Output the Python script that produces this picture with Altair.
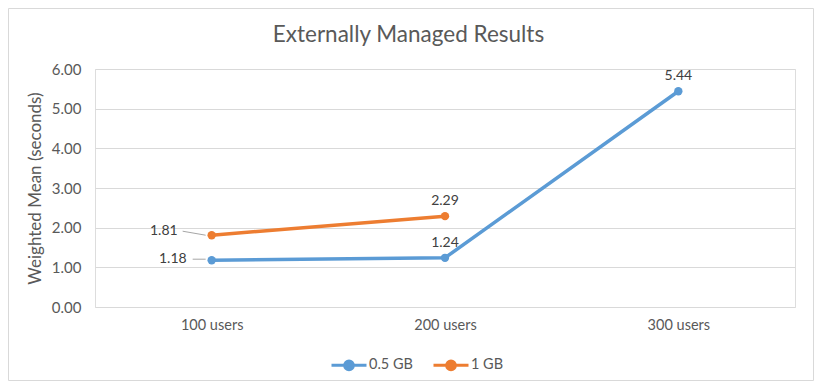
import altair as alt
import pandas as pd

categories = ["100 users", "200 users", "300 users"]
series_names = ["0.5 GB", "1 GB"]
half_gb = [1.18, 1.24, 5.44]
one_gb = [1.81, 2.29, None]
colors = ["#5B9BD5", "#ED7D31"]
title_text = "Externally Managed Results"

rows = []
for name, vals in zip(series_names, [half_gb, one_gb]):
    for c, v in zip(categories, vals):
        if v is not None:
            rows.append({"users": c, "series": name, "value": v, "label": f"{v:.2f}"})
df = pd.DataFrame(rows)

FONT = "Lato"
GREY = "#595959"

x = alt.X("users:N", sort=categories, scale=alt.Scale(type="point", padding=0.5),
          axis=alt.Axis(title=None, labelAngle=0, domain=False, ticks=False, grid=False,
                        labelPadding=11, labelFontSize=14.5, labelColor=GREY, labelFont=FONT))
y = alt.Y("value:Q", scale=alt.Scale(domain=[0, 6], nice=False),
          axis=alt.Axis(title="Weighted Mean (seconds)", values=[0, 1, 2, 3, 4, 5, 6], format=".2f",
                        domain=False, ticks=False, gridColor="#D9D9D9", gridWidth=1, labelOverlap=False,
                        labelPadding=14, labelFontSize=15, labelColor=GREY, labelFont=FONT,
                        titleFontSize=17, titleColor=GREY, titleFont=FONT, titleFontWeight="normal",
                        titlePadding=7))
color = alt.Color("series:N", scale=alt.Scale(domain=series_names, range=colors),
                  legend=alt.Legend(title=None, orient="none", direction="horizontal",
                                    legendX=235, legendY=277,
                                    symbolType="M-1,0H1M0.25,0A0.25,0.25,0,1,1,-0.25,0A0.25,0.25,0,1,1,0.25,0Z",
                                    symbolSize=1225, symbolStrokeWidth=3, labelFontSize=14.5,
                                    labelColor=GREY, labelFont=FONT, labelOffset=1, columnPadding=14))

base = alt.Chart(df)

lines = base.mark_line(strokeWidth=3.5).encode(x=x, y=y, color=color, detail="series:N")
points = base.mark_point(filled=True, size=70, opacity=1).encode(x=x, y=y, color=color)

lab_style = dict(fontSize=14, color="#404040", font=FONT, baseline="middle")
above = base.transform_filter(alt.datum.users != "100 users").mark_text(dy=-15, align="center", **lab_style).encode(
    x=x, y=y, text="label:N")
left_blue = base.transform_filter((alt.datum.users == "100 users") & (alt.datum.series == "0.5 GB")).mark_text(
    dx=-25, dy=-1, align="right", **lab_style).encode(x=x, y=y, text="label:N")
left_orange = base.transform_filter((alt.datum.users == "100 users") & (alt.datum.series == "1 GB")).mark_text(
    dx=-34, dy=-4, align="right", **lab_style).encode(x=x, y=y, text="label:N")

lead_blue = base.transform_filter((alt.datum.users == "100 users") & (alt.datum.series == "0.5 GB")).mark_rule(
    color="#A6A6A6", strokeWidth=1, xOffset=-19, x2Offset=-6, yOffset=-1, y2Offset=-1).encode(
    x=x, x2="users:N", y=y, y2="value:Q")
lead_orange = base.transform_filter((alt.datum.users == "100 users") & (alt.datum.series == "1 GB")).mark_rule(
    color="#A6A6A6", strokeWidth=1, xOffset=-29, x2Offset=-6, yOffset=-4, y2Offset=0).encode(
    x=x, x2="users:N", y=y, y2="value:Q")

single = pd.DataFrame({"t": [title_text]})
border = alt.Chart(single).mark_rect(fill=None, stroke="#D9D9D9", strokeWidth=1).encode(
    x=alt.value(-86.5), x2=alt.value(718.5), y=alt.value(-60.5), y2=alt.value(311.5))
title = alt.Chart(single).mark_text(fontSize=22.5, color=GREY, font=FONT, align="center",
                                    baseline="alphabetic").encode(
    x=alt.value(313.5), y=alt.value(-27), text="t:N")

chart = alt.layer(border, lines, points, lead_blue, lead_orange, above, left_blue, left_orange, title).properties(
    width=700, height=238,
    autosize=alt.AutoSizeParams(type="none"),
    padding={"left": 87, "top": 61, "right": 19, "bottom": 74},
).configure_view(stroke=None).configure(background="white")

chart.save("out.html", embed_options={"renderer": "svg", "actions": False})
